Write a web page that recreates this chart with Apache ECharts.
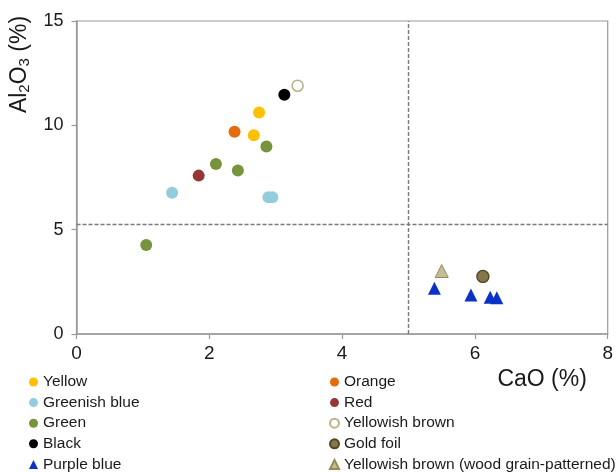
<!DOCTYPE html>
<html>
<head>
<meta charset="utf-8">
<script src="https://cdn.jsdelivr.net/npm/echarts@6/dist/echarts.min.js"></script>
<style>
  html, body { margin: 0; padding: 0; background: #fff; }
  #chart { width: 616px; height: 472px; }
</style>
</head>
<body>
<div id="chart"></div>
<script>
// CaO / Al2O3 values, one array per colour group
var yellow = [[2.75, 10.62], [2.67, 9.53]];
var orange = [[2.38, 9.69]];
var greenishBlue = [[1.44, 6.77], [2.89, 6.55], [2.95, 6.55]];
var red = [[1.84, 7.59]];
var green = [[2.86, 8.98], [2.10, 8.15], [2.43, 7.83], [1.05, 4.26]];
var yellowishBrown = [[3.33, 11.90]];
var black = [[3.13, 11.47]];
var goldFoil = [[6.12, 2.76]];
var purpleBlue = [[5.39, 2.19], [5.94, 1.87], [6.23, 1.76], [6.33, 1.74]];
var woodGrain = [[5.50, 3.02]];

var xTicks = [0, 2, 4, 6, 8];
var yTicks = [0, 5, 10, 15];
var cutCaO = 5;
var cutAl = 5.25;

var legendLeft = ['Yellow', 'Greenish blue', 'Green', 'Black', 'Purple blue'];
var legendRight = ['Orange', 'Red', 'Yellowish brown', 'Gold foil', 'Yellowish brown (wood grain-patterned)'];

var font = '"Liberation Sans", Arial, Helvetica, sans-serif';

function pts(name, data, symbol, size, style) {
	style.opacity = 1;
	return {
		name: name,
		type: 'scatter',
		data: data,
		symbol: symbol,
		symbolSize: size,
		itemStyle: style,
		z: 3
	};
}

var chart = echarts.init(document.getElementById('chart'));

var legendBase = {
	orient: 'vertical',
	top: 374,
	height: 160,
	padding: 0,
	itemWidth: 9,
	itemHeight: 9,
	itemGap: 4.6,
	textStyle: { fontFamily: font, fontSize: 15.5, color: '#1a1a1a', lineHeight: 15 },
	selectedMode: false
};

var option = {
	animation: false,
	grid: {
		left: 76.5, right: 8, top: 21, bottom: 138,
		show: true, borderColor: '#9a9a9a', borderWidth: 1.2
	},
	legend: [
		Object.assign({ left: 29, data: legendLeft }, legendBase),
		Object.assign({ left: 329, data: legendRight }, legendBase)
	],
	xAxis: {
		type: 'value',
		min: 0, max: 8, interval: 2,
		name: 'CaO (%)',
		nameLocation: 'middle',
		nameGap: 28,
		nameTextStyle: { fontFamily: font, fontSize: 23, color: '#1a1a1a', padding: [0, 0, 0, 400] },
		axisLine: { lineStyle: { color: '#9a9a9a', width: 1.5 } },
		axisTick: { show: true, length: 5, lineStyle: { color: '#9a9a9a', width: 1.2 } },
		axisLabel: {
			margin: 10, fontFamily: font, fontSize: 19, color: '#1a1a1a',
			formatter: function (v) { return xTicks.indexOf(v) >= 0 ? v : ''; }
		},
		splitLine: { show: false }
	},
	yAxis: {
		type: 'value',
		min: 0, max: 15, interval: 5,
		name: '{a|Al}{s|2}{a|O}{s|3}{a| (%)}',
		nameLocation: 'middle',
		nameGap: 37,
		nameTextStyle: {
			padding: [0, 0, 0, 226],
			rich: {
				a: { fontFamily: font, fontSize: 23, color: '#1a1a1a', lineHeight: 26 },
				s: { fontFamily: font, fontSize: 15, color: '#1a1a1a', verticalAlign: 'bottom', lineHeight: 26, padding: [6, 0, 0, 0] }
			}
		},
		axisLine: { lineStyle: { color: '#9a9a9a', width: 1.5 } },
		axisTick: { show: true, length: 5, lineStyle: { color: '#9a9a9a', width: 1.2 } },
		axisLabel: {
			margin: 13, fontFamily: font, fontSize: 18, color: '#1a1a1a',
			formatter: function (v) { return yTicks.indexOf(v) >= 0 ? v : ''; }
		},
		splitLine: { show: false }
	},
	series: [
		pts('Yellow', yellow, 'circle', 12, { color: '#FFC000' }),
		pts('Greenish blue', greenishBlue, 'circle', 12, { color: '#93CDDD' }),
		pts('Green', green, 'circle', 12, { color: '#77933C' }),
		pts('Black', black, 'circle', 12, { color: '#000000' }),
		pts('Purple blue', purpleBlue, 'triangle', 13, { color: '#0A32C8' }),
		pts('Orange', orange, 'circle', 12, { color: '#E46C0A' }),
		pts('Red', red, 'circle', 12, { color: '#953735' }),
		pts('Yellowish brown', yellowishBrown, 'circle', 11, { color: '#ffffff', borderColor: '#B9B38C', borderWidth: 1.6 }),
		pts('Gold foil', goldFoil, 'circle', 12, { color: '#857848', borderColor: '#4F4628', borderWidth: 1.4 }),
		pts('Yellowish brown (wood grain-patterned)', woodGrain, 'triangle', 13, { color: '#C4BD97', borderColor: '#948A54', borderWidth: 1 }),
		{
			// threshold lines
			type: 'scatter',
			data: [],
			silent: true,
			markLine: {
				symbol: 'none',
				silent: true,
				label: { show: false },
				lineStyle: { color: '#7a7a7a', type: [4, 2], width: 1.4 },
				data: [{ xAxis: cutCaO }, { yAxis: cutAl }]
			}
		}
	]
};

chart.setOption(option);
</script>
</body>
</html>
